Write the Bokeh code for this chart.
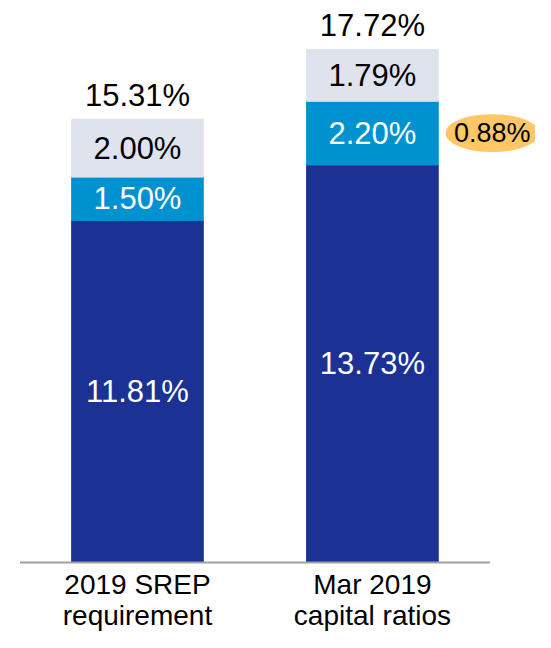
from bokeh.plotting import figure
from bokeh.models import Range1d, ColumnDataSource
from bokeh.core.properties import value
from bokeh.embed import file_html
from bokeh.resources import INLINE

# ---- data ----
categories = ["2019 SREP\nrequirement", "Mar 2019\ncapital ratios"]
base_vals = [11.81, 13.73]     # dark navy
mid_vals = [1.50, 2.20]        # medium blue
top_vals = [2.00, 1.79]        # light grey-blue
totals = [15.31, 17.72]
extra_label = "0.88%"

# ---- styles ----
NAVY = "#1B3194"
BLUE = "#0092D0"
LIGHT = "#DEE3EE"
GOLD = "#FFC766"
AXIS = "#A0A0A0"
FONT = "Liberation Sans"
AXIS_BOUNDS = (-0.5, 1.5)

xs = list(range(len(categories)))
b0 = [0.0] * len(xs)
b1 = base_vals
b2 = [a + b for a, b in zip(base_vals, mid_vals)]
b3 = [a + b for a, b in zip(b2, top_vals)]

def pct(v):
    return f"{v:.2f}%"

src = ColumnDataSource(dict(
    x=xs, b0=b0, b1=b1, b2=b2, b3=b3,
    c1=[(a + b) / 2 for a, b in zip(b0, b1)],
    c2=[(a + b) / 2 for a, b in zip(b1, b2)],
    c3=[(a + b) / 2 for a, b in zip(b2, b3)],
    l1=[pct(v) for v in base_vals],
    l2=[pct(v) for v in mid_vals],
    l3=[pct(v) for v in top_vals],
    tot=totals,
    lt=[pct(v) for v in totals],
    cat=categories,
))

p = figure(width=535, height=632, output_backend="svg", toolbar_location=None,
           x_range=Range1d(-0.583, 1.694), y_range=Range1d(-2.418, 19.41),
           min_border=0)
p.outline_line_color = None
p.grid.visible = False
p.axis.visible = False
p.background_fill_color = "white"
p.border_fill_color = "white"

W = 0.56
p.vbar(x="x", bottom="b0", top="b1", width=W, color=NAVY, source=src)
p.vbar(x="x", bottom="b1", top="b2", width=W, color=BLUE, source=src)
p.vbar(x="x", bottom="b2", top="b3", width=W, color=LIGHT, source=src)

# category baseline (x axis line)
p.segment(x0=[AXIS_BOUNDS[0]], y0=[0], x1=[AXIS_BOUNDS[1]], y1=[0],
          line_color=AXIS, line_width=2)

common = dict(text_font=value(FONT), text_font_size="31px", text_align="center")
p.text(x="x", y="c1", text="l1", text_color="white", text_baseline="middle", source=src, **common)
p.text(x="x", y="c2", text="l2", text_color="white", text_baseline="middle", source=src, **common)
p.text(x="x", y="c3", text="l3", text_color="black", text_baseline="middle", source=src, **common)
p.text(x="x", y="tot", text="lt", text_color="black", text_baseline="bottom",
       y_offset=-6, source=src, **common)

# category labels below the baseline
p.text(x="x", y="b0", text="cat", text_color="black", text_baseline="top",
       text_align="center", text_font=value(FONT), text_font_size="28px",
       text_line_height=1.0, y_offset=7, source=src)

# callout for the last bar's medium segment
cx = [xs[-1] + 0.51]
cy = [src.data["c2"][-1]]
p.ellipse(x=cx, y=cy, width=94, height=38, width_units="screen", height_units="screen",
          fill_color=GOLD, line_color=None)
p.text(x=cx, y=cy, text=[extra_label], text_font=value(FONT), text_font_size="27px",
       text_align="center", text_baseline="middle", text_color="black")

open("out.html", "w").write(file_html(p, INLINE))
